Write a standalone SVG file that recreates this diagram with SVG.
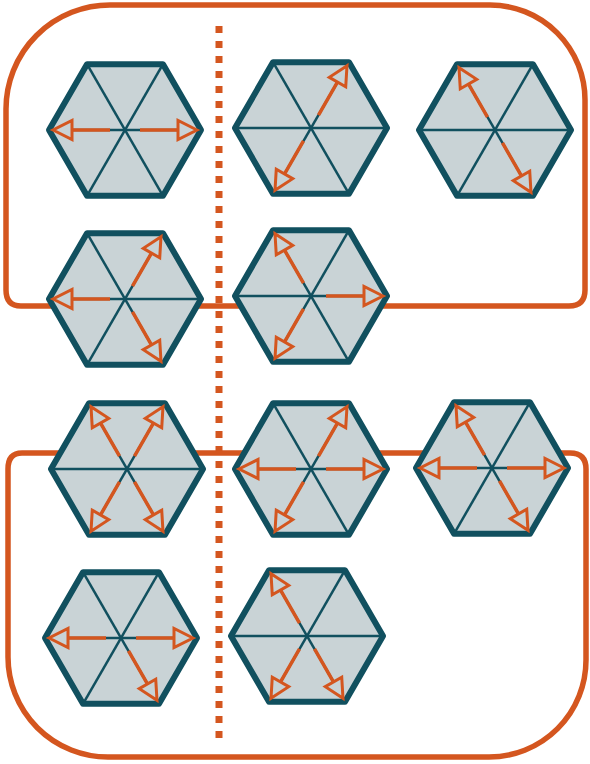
<svg xmlns="http://www.w3.org/2000/svg" xmlns:xlink="http://www.w3.org/1999/xlink" width="590" height="764" viewBox="0 0 590 764">
<style>
.frame{fill:none;stroke:#d4561f;stroke-width:5.5}
.dots{fill:none;stroke:#d4561f;stroke-width:7;stroke-dasharray:7 8}
.hexo{fill:#c9d3d6;stroke:#11505f;stroke-width:6;stroke-linejoin:round}
.spoke{stroke:#11505f;stroke-width:2.5}
.al{stroke:#d4561f;stroke-width:3.5;fill:none}
.ah{fill:#c9d3d6;stroke:#d4561f;stroke-width:3;stroke-linejoin:miter}
</style>
<defs>
<g id="hex">
<polygon class="hexo" points="76,0 38,65.8 -38,65.8 -76,0 -38,-65.8 38,-65.8"/>
<line class="spoke" x1="-76" y1="0" x2="76" y2="0"/>
<line class="spoke" x1="-38" y1="-65.8" x2="38" y2="65.8"/>
<line class="spoke" x1="38" y1="-65.8" x2="-38" y2="65.8"/>
</g>
<g id="arr">
<line class="al" x1="15" y1="0" x2="54" y2="0"/>
<polygon class="ah" points="72,0 53,-9.5 53,9.5"/>
</g>
</defs>
<g id="frames">
<path class="frame" d="M110,5 H490 A95,95 0 0 1 585,100 V290 Q585,306 569,306 H21 Q6,306 6,290 V109 A104,104 0 0 1 110,5 Z"/>
<path class="frame" d="M22,453 H570 Q586,453 586,469 V660 A97,97 0 0 1 489,757 H108 A100,100 0 0 1 8,657 V469 Q8,453 22,453 Z"/>
<line class="dots" x1="219" y1="26" x2="219" y2="742"/>
</g>
<g id="n1" transform="translate(125,130)"><use xlink:href="#hex"/><use xlink:href="#arr" transform="rotate(180)"/><use xlink:href="#arr"/></g>
<g id="n2" transform="translate(311,128)"><use xlink:href="#hex"/><use xlink:href="#arr" transform="rotate(-60)"/><use xlink:href="#arr" transform="rotate(120)"/></g>
<g id="n3" transform="translate(495,130)"><use xlink:href="#hex"/><use xlink:href="#arr" transform="rotate(-120)"/><use xlink:href="#arr" transform="rotate(60)"/></g>
<g id="n4" transform="translate(125,299)"><use xlink:href="#hex"/><use xlink:href="#arr" transform="rotate(180)"/><use xlink:href="#arr" transform="rotate(-60)"/><use xlink:href="#arr" transform="rotate(60)"/></g>
<g id="n5" transform="translate(311,296)"><use xlink:href="#hex"/><use xlink:href="#arr" transform="rotate(-120)"/><use xlink:href="#arr"/><use xlink:href="#arr" transform="rotate(120)"/></g>
<g id="n6" transform="translate(127,469)"><use xlink:href="#hex"/><use xlink:href="#arr" transform="rotate(-120)"/><use xlink:href="#arr" transform="rotate(-60)"/><use xlink:href="#arr" transform="rotate(120)"/><use xlink:href="#arr" transform="rotate(60)"/></g>
<g id="n7" transform="translate(311,469)"><use xlink:href="#hex"/><use xlink:href="#arr" transform="rotate(-60)"/><use xlink:href="#arr" transform="rotate(180)"/><use xlink:href="#arr"/><use xlink:href="#arr" transform="rotate(120)"/></g>
<g id="n8" transform="translate(492,468)"><use xlink:href="#hex"/><use xlink:href="#arr" transform="rotate(-120)"/><use xlink:href="#arr" transform="rotate(180)"/><use xlink:href="#arr"/><use xlink:href="#arr" transform="rotate(60)"/></g>
<g id="n9" transform="translate(121,638)"><use xlink:href="#hex"/><use xlink:href="#arr" transform="rotate(180)"/><use xlink:href="#arr"/><use xlink:href="#arr" transform="rotate(60)"/></g>
<g id="n10" transform="translate(307,636)"><use xlink:href="#hex"/><use xlink:href="#arr" transform="rotate(-120)"/><use xlink:href="#arr" transform="rotate(120)"/><use xlink:href="#arr" transform="rotate(60)"/></g>
</svg>
